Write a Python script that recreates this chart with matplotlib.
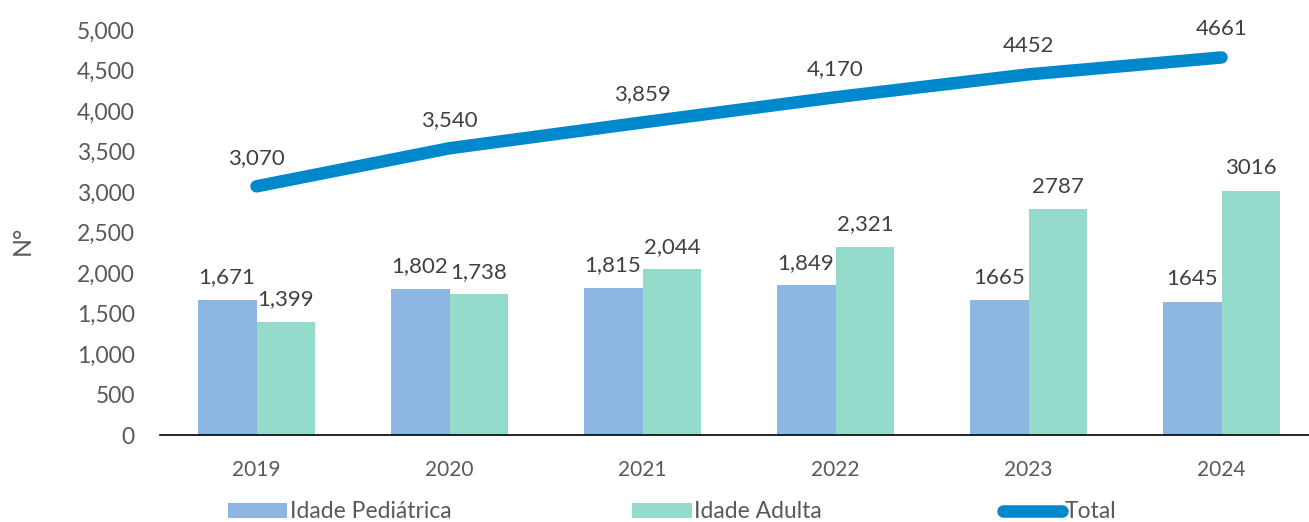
import matplotlib.pyplot as plt
import numpy as np

plt.rcParams['font.family'] = ['Lato', 'DejaVu Sans']

years = ['2019', '2020', '2021', '2022', '2023', '2024']
pediatrica = [1671, 1802, 1815, 1849, 1665, 1645]
adulta = [1399, 1738, 2044, 2321, 2787, 3016]
total = [3070, 3540, 3859, 4170, 4452, 4661]
ped_labels = ['1,671', '1,802', '1,815', '1,849', '1665', '1645']
adu_labels = ['1,399', '1,738', '2,044', '2,321', '2787', '3016']
tot_labels = ['3,070', '3,540', '3,859', '4,170', '4452', '4661']

grey = '#595959'
fig = plt.figure(figsize=(13.09, 5.22), dpi=100)
ax = fig.add_axes([160 / 1309, 87 / 522, 1158 / 1309, 405 / 522])

x = np.arange(len(years))
w = 0.305
b1 = ax.bar(x - w / 2, pediatrica, width=w, color='#8DB6E2', label='Idade Pediátrica')
b2 = ax.bar(x + w / 2, adulta, width=w, color='#95DBCC', label='Idade Adulta')
ln, = ax.plot(x, total, color='#0088CC', linewidth=9, solid_capstyle='round', label='Total')

# data labels
for i in range(len(years)):
    ax.annotate(ped_labels[i], (x[i] - w / 2, pediatrica[i]), xytext=(0, 9),
                textcoords='offset points', ha='center', va='bottom', fontsize=16, color='#404040')
    ax.annotate(adu_labels[i], (x[i] + w / 2, adulta[i]), xytext=(0, 9),
                textcoords='offset points', ha='center', va='bottom', fontsize=16, color='#404040')
    ax.annotate(tot_labels[i], (x[i], total[i]), xytext=(0, 13),
                textcoords='offset points', ha='center', va='bottom', fontsize=16, color='#404040')

ax.set_xlim(-0.5, 5.5)
ax.set_ylim(0, 5000)
ax.set_yticks(range(0, 5001, 500))
ax.set_yticklabels([f'{v:,}' for v in range(0, 5001, 500)])
ax.set_xticks(x)
ax.set_xticklabels(years)
ax.tick_params(axis='y', length=0, pad=18, labelsize=16.5, labelcolor=grey)
ax.tick_params(axis='x', length=0, pad=18, labelsize=15, labelcolor=grey)
for s in ['top', 'right', 'left']:
    ax.spines[s].set_visible(False)
ax.spines['bottom'].set_color('black')
ax.spines['bottom'].set_linewidth(1.2)

fig.text(22 / 1309, 1 - 240 / 522, 'N°', rotation=90, ha='center', va='center',
         fontsize=18, color=grey)

fig.legend(handles=[b1, b2, ln], loc='center', bbox_to_anchor=(672 / 1309, 10 / 522),
           ncol=3, frameon=False, fontsize=16.5, labelcolor=grey, handlelength=2.6,
           handleheight=0.6, handletextpad=0.1, columnspacing=7.9)

fig.savefig('out.png', dpi=100)
